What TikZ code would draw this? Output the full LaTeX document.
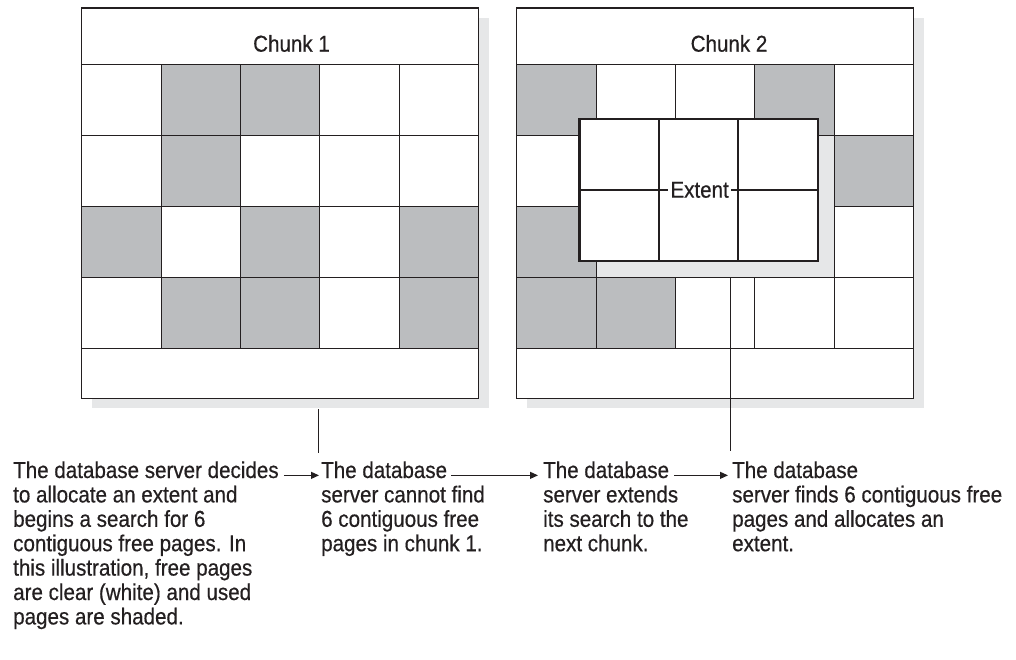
\documentclass[tikz,border=0pt]{standalone}
\usepackage{fontspec}
\setmainfont[FakeStretch=0.895,FakeBold=0.5]{Liberation Sans}
\usetikzlibrary{arrows.meta,calc}
\definecolor{ink}{HTML}{231F20}
\definecolor{used}{HTML}{BBBDBF}
\definecolor{pale}{HTML}{E6E7E8}
\tikzset{
  txt/.style={anchor=base west, inner sep=0pt, font=\fontsize{23}{24.4}\selectfont, text=ink},
  lab/.style={anchor=base, inner sep=0pt, font=\fontsize{23}{24.4}\selectfont, text=ink},
  gridl/.style={draw=ink, line width=1.1pt},
  boxl/.style={draw=ink, line width=1.4pt},
  extl/.style={draw=ink, line width=2.2pt},
  conn/.style={draw=ink, line width=1.1pt},
  arr/.style={draw=ink, line width=1.1pt, -{Triangle[length=8pt,width=7pt]}},
}
\begin{document}
\begin{tikzpicture}[x=1pt,y=-1pt]
\useasboundingbox (0,0) rectangle (1016,660);
% shadows and white boxes
\foreach \ox in {81.7,516.7} {
  \fill[pale] ({\ox+10},18) rectangle ({\ox+407},408);
  \fill[white] (\ox,8) rectangle ({\ox+397},398.3);
}
% used pages, chunk 1
\foreach \r/\c in {1/2,1/3,2/2,3/1,3/3,3/5,4/2,4/3,4/5}
  \fill[used] ({81.7+79.4*(\c-1)},{64.3+71.05*(\r-1)}) rectangle ++(79.4,71.05);
% used pages, chunk 2
\foreach \r/\c in {1/1,1/4,2/5,3/1,4/1,4/2}
  \fill[used] ({516.7+79.4*(\c-1)},{64.3+71.05*(\r-1)}) rectangle ++(79.4,71.05);
% grid lines
\foreach \ox in {81.7,516.7} {
  \foreach \k in {0,...,4}
    \draw[gridl] (\ox,{64.3+71.05*\k}) -- ({\ox+397},{64.3+71.05*\k});
  \foreach \k in {1,...,4}
    \draw[gridl] ({\ox+79.4*\k},64.3) -- ({\ox+79.4*\k},348.5);
  \draw[boxl] (\ox,8) rectangle ({\ox+397},398.3);
}
% free region found in chunk 2
\filldraw[fill=pale, gridl] (596.1,135.35) rectangle (834.3,277.45);
% chunk labels
\node[lab] (chunk1) at (291.5,51.7) {Chunk 1};
\node[lab] (chunk2) at (729,51.7) {Chunk 2};
% extent
\draw[extl, fill=white] (579.5,118.8) rectangle (817.7,260.9);
\draw[extl] (658.9,118.8) -- (658.9,260.9);
\draw[extl] (738.3,118.8) -- (738.3,260.9);
\draw[extl] (579.5,189.85) -- (817.7,189.85);
\node[fill=white, inner sep=2pt, font=\fontsize{23}{24.4}\selectfont, text=ink] (extent) at (699.6,189.85) {Extent};
% text blocks
\node[txt] (h1) at (13,478) {The database server decides};
\foreach \t [count=\i] in {to allocate an extent and, begins a search for 6, contiguous free pages. In, {this illustration, free pages}, are clear (white) and used, pages are shaded.}
  \node[txt] (b1-\i) at (13,{478+24.4*\i}) {\t};
\node[txt] (h2) at (321,478) {The database};
\foreach \t [count=\i] in {server cannot find, 6 contiguous free, pages in chunk 1.}
  \node[txt] (b2-\i) at (321,{478+24.4*\i}) {\t};
\node[txt] (h3) at (543,478) {The database};
\foreach \t [count=\i] in {server extends, its search to the, next chunk.}
  \node[txt] (b3-\i) at (543,{478+24.4*\i}) {\t};
\node[txt] (h4) at (732,478) {The database};
\foreach \t [count=\i] in {server finds 6 contiguous free, pages and allocates an, extent.}
  \node[txt] (b4-\i) at (732,{478+24.4*\i}) {\t};
% arrows
\draw[arr] ([xshift=5pt]h1.mid east) -- ([xshift=-2pt]h2.mid west);
\draw[arr] ([xshift=4pt]h2.mid east) -- ([xshift=-5pt]h3.mid west);
\draw[arr] ([xshift=5pt]h3.mid east) -- ([xshift=-4pt]h4.mid west);
% pointer lines
\coordinate (p1) at (318.3,409);
\coordinate (p2) at (730.3,277.45);
\draw[conn] (p1) -- ([yshift=8pt]p1 |- h2.north);
\draw[conn] (p2) -- ([yshift=10pt]p2 |- h4.north);
\end{tikzpicture}
\end{document}
